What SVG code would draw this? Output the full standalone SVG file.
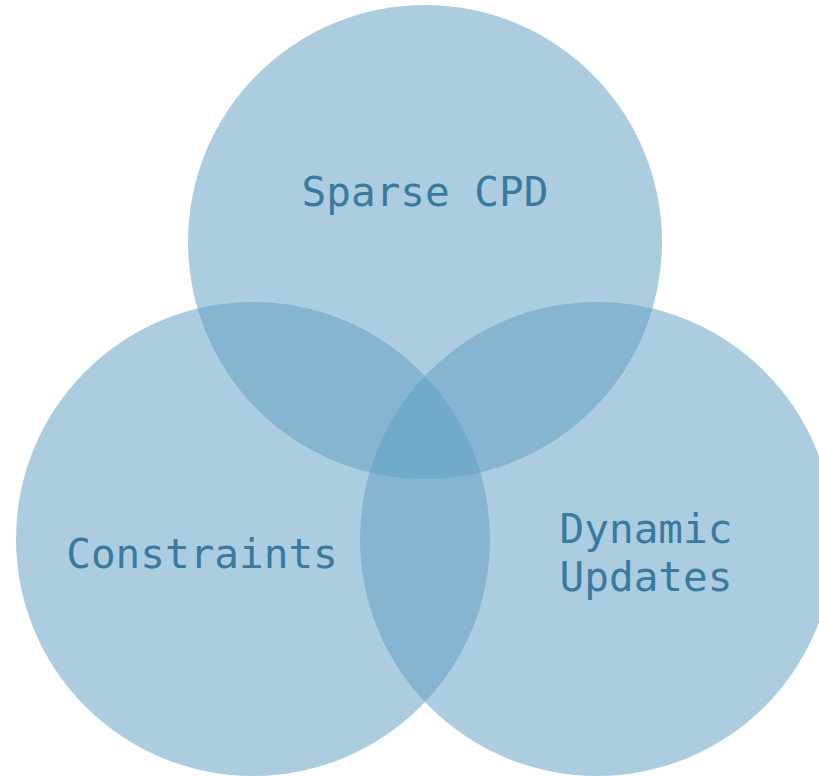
<svg xmlns="http://www.w3.org/2000/svg" width="819" height="776" viewBox="0 0 819 776">
  <style>
    .set { fill: #62a1c5; fill-opacity: 0.53; }
    .label { font-family: "DejaVu Sans Mono", "Liberation Mono", monospace; font-size: 41px; fill: #3a7a9e; text-anchor: middle; }
  </style>
  <rect width="819" height="776" fill="#ffffff"/>
  <g id="sparse-cpd">
    <circle class="set" cx="425" cy="242" r="237"/>
    <text class="label" x="425" y="206">Sparse CPD</text>
  </g>
  <g id="constraints">
    <circle class="set" cx="253" cy="539" r="237"/>
    <text class="label" x="202" y="568">Constraints</text>
  </g>
  <g id="dynamic-updates">
    <circle class="set" cx="597" cy="539" r="237"/>
    <text class="label" x="646" y="543">Dynamic</text>
    <text class="label" x="646" y="591">Updates</text>
  </g>
  <g id="connectors"/>
</svg>
